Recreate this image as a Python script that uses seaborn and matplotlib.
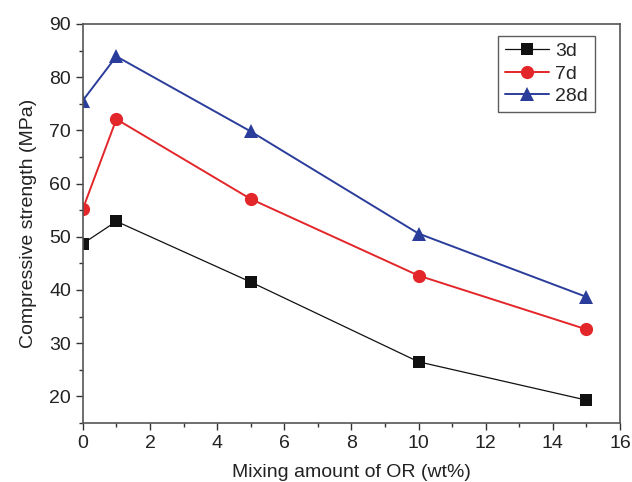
import pandas as pd
import seaborn as sns
import matplotlib.pyplot as plt

# data
mixing = [0, 1, 5, 10, 15]
s3d = [48.7, 52.9, 41.5, 26.5, 19.3]
s7d = [55.2, 72.1, 57.1, 42.7, 32.6]
s28d = [75.6, 83.9, 69.8, 50.6, 38.7]
series = ['3d', '7d', '28d']

data = pd.DataFrame({
    'x': mixing * 3,
    'y': s3d + s7d + s28d,
    'age': ['3d'] * 5 + ['7d'] * 5 + ['28d'] * 5,
})

sns.set_style('ticks')
plt.rcParams['font.family'] = ['Liberation Sans', 'DejaVu Sans']

fig = plt.figure(figsize=(6.32, 4.82), dpi=100)
ax = fig.add_axes([0.131, 0.1224, 0.850, 0.828])

colors = {'3d': '#111111', '7d': '#e3262a', '28d': '#2b3d9b'}
markers = {'3d': 's', '7d': 'o', '28d': '^'}
widths = {'3d': 0.9, '7d': 1.4, '28d': 1.4}
sizes = {'3d': 8, '7d': 9.5, '28d': 10}

for s in series:
    sub = data[data['age'] == s]
    sns.lineplot(data=sub, x='x', y='y', ax=ax, color=colors[s], marker=markers[s],
                 markersize=sizes[s], markeredgewidth=0, linewidth=widths[s], label=s,
                 clip_on=True)

ax.set_xlim(0, 16)
ax.set_ylim(15, 90)
ax.set_xticks(range(0, 17, 2))
ax.set_xticks(range(1, 16, 2), minor=True)
ax.set_yticks(range(20, 91, 10))
ax.set_yticks(range(15, 90, 10), minor=True)
ax.tick_params(which='major', length=5, width=1, labelsize=14, colors='#333333')
ax.tick_params(which='minor', length=3, width=1, colors='#333333')
ax.tick_params(labelcolor='#222222')
for sp in ax.spines.values():
    sp.set_visible(True)
    sp.set_color('#555555')
    sp.set_linewidth(1.2)

ax.set_xlabel('Mixing amount of OR (wt%)', fontsize=14, color='#222222', labelpad=9)
ax.set_ylabel('Compressive strength (MPa)', fontsize=14, color='#222222', labelpad=9)

leg = ax.legend(loc='upper right', bbox_to_anchor=(0.953, 0.97), fontsize=14, frameon=True,
                fancybox=False, edgecolor='#333333', handlelength=2.3, handletextpad=0.3,
                borderpad=0.35, labelspacing=0.25, borderaxespad=0)
leg.get_frame().set_linewidth(1.0)

fig.savefig('out.png', dpi=100)
